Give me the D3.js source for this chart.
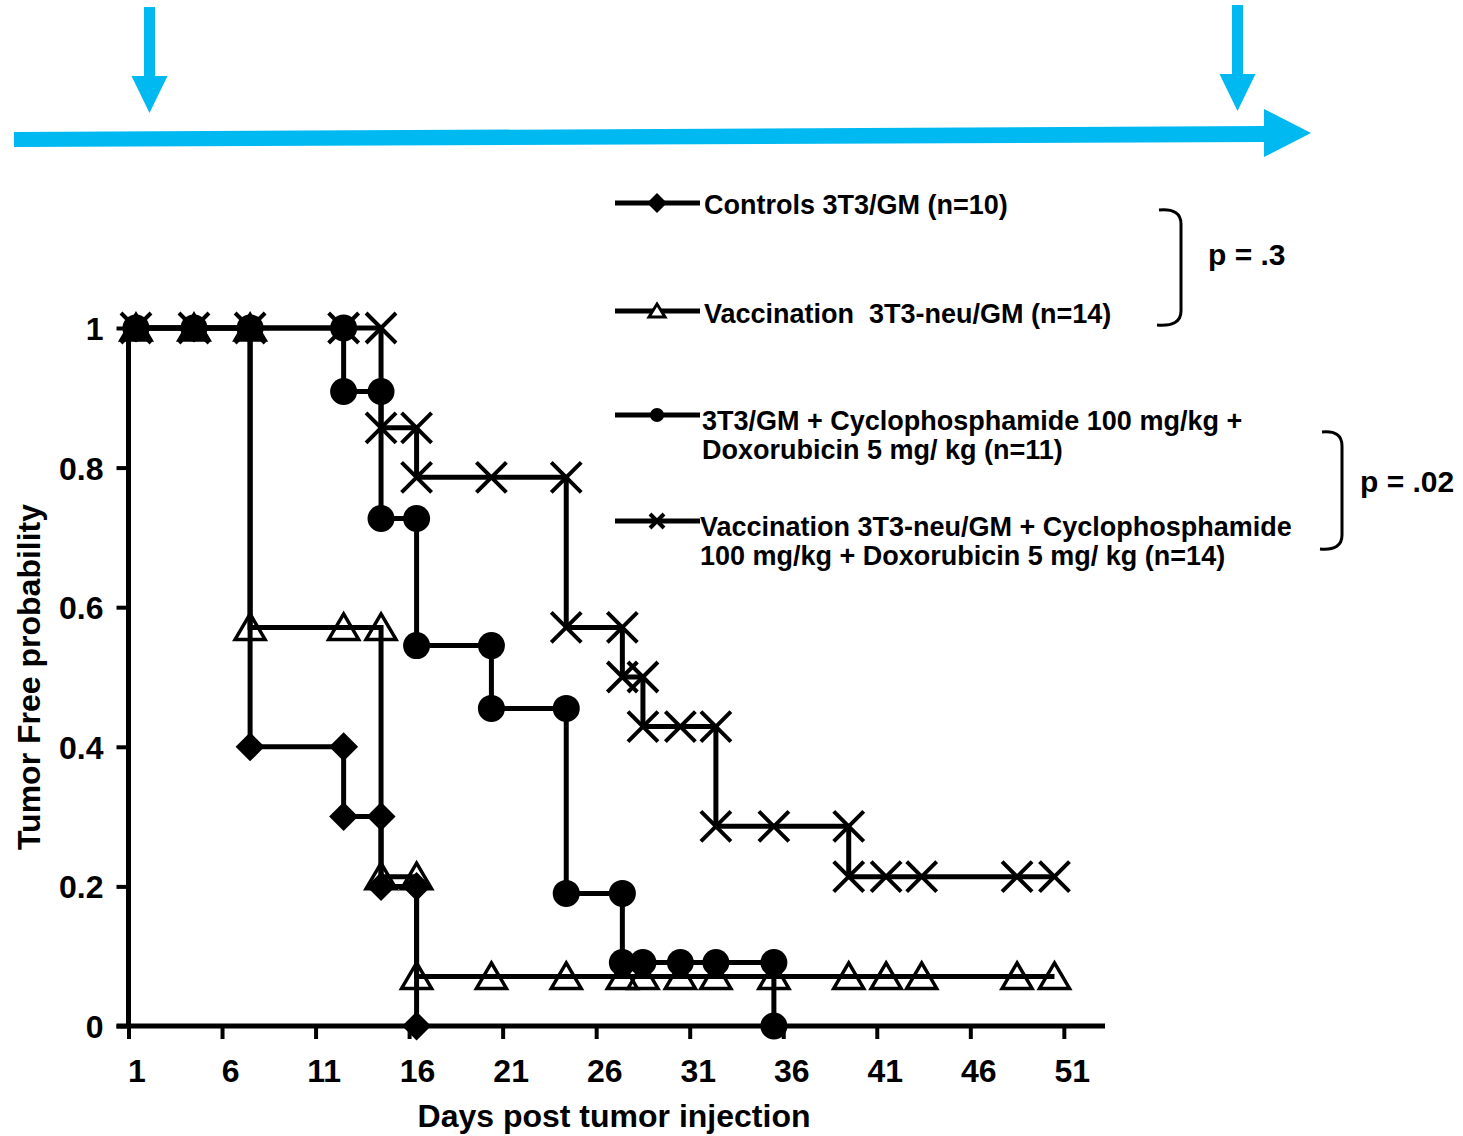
<!DOCTYPE html>
<html>
<head>
<meta charset="utf-8">
<script src="https://cdn.jsdelivr.net/npm/d3@7"></script>
<style>
  body { margin: 0; background: #fff; }
  svg text { font-family: "Liberation Sans", Arial, Helvetica, sans-serif; font-weight: bold; fill: #000; white-space: pre; }
</style>
</head>
<body>
<div id="canvas"></div>
<script>
// Kaplan-Meier style curves, [day, tumor free probability]
var controls = [[1.4,1],[4.5,1],[7.5,1],[7.5,0.4],[12.5,0.4],[12.5,0.3],[14.5,0.3],[14.5,0.2],[16.4,0.2],[16.4,0]];
var vaccination = [[1.4,1],[4.5,1],[7.5,1],[7.5,0.571],[12.5,0.571],[14.5,0.571],[14.5,0.214],[16.4,0.214],[16.4,0.071],
  [20.4,0.071],[24.4,0.071],[27.4,0.071],[28.5,0.071],[30.5,0.071],[32.4,0.071],[35.5,0.071],[39.5,0.071],[41.5,0.071],
  [43.4,0.071],[48.5,0.071],[50.5,0.071]];
var chemo = [[1.4,1],[4.5,1],[7.5,1],[12.5,1],[12.5,0.909],[14.5,0.909],[14.5,0.727],[16.4,0.727],[16.4,0.545],[20.4,0.545],
  [20.4,0.455],[24.4,0.455],[24.4,0.19],[27.4,0.19],[27.4,0.091],[28.5,0.091],[30.5,0.091],[32.4,0.091],[35.5,0.091],[35.5,0]];
var vaccChemo = [[1.4,1],[4.5,1],[7.5,1],[12.5,1],[14.5,1],[14.5,0.857],[16.4,0.857],[16.4,0.786],[20.4,0.786],[24.4,0.786],
  [24.4,0.571],[27.4,0.571],[27.4,0.5],[28.5,0.5],[28.5,0.429],[30.5,0.429],[32.4,0.429],[32.4,0.286],[35.5,0.286],
  [39.5,0.286],[39.5,0.214],[41.5,0.214],[43.4,0.214],[48.5,0.214],[50.5,0.214]];

var xTicks = [1, 6, 11, 16, 21, 26, 31, 36, 41, 46, 51];
var yTicks = [0, 0.2, 0.4, 0.6, 0.8, 1];

var legendLabels = [
  ["Controls 3T3/GM (n=10)"],
  ["Vaccination  3T3-neu/GM (n=14)"],
  ["3T3/GM + Cyclophosphamide 100 mg/kg +", "Doxorubicin 5 mg/ kg (n=11)"],
  ["Vaccination 3T3-neu/GM + Cyclophosphamide", "100 mg/kg + Doxorubicin 5 mg/ kg (n=14)"]
];
var pValues = ["p = .3", "p = .02"];

var width = 1463, height = 1136;
var blue = "#00B9F1";

var svg = d3.select("#canvas").append("svg")
    .attr("width", width)
    .attr("height", height);

// scales
var x = d3.scaleLinear().domain([1, 53.2]).range([128.5, 1105]);
var y = d3.scaleLinear().domain([0, 1]).range([1026, 328]);

// ****************** blue timeline arrows ***************************
svg.append("path")
    .attr("d", "M14,132 L1264,126 L1264,109 L1311,133 L1264,157 L1264,142 L14,147 Z")
    .attr("fill", blue);

function downArrow(cx, top, headTop, tip) {
  return "M" + (cx - 5.5) + "," + top + " L" + (cx + 5.5) + "," + top +
    " L" + (cx + 5.5) + "," + headTop + " L" + (cx + 18) + "," + headTop +
    " L" + cx + "," + tip + " L" + (cx - 18) + "," + headTop +
    " L" + (cx - 5.5) + "," + headTop + " Z";
}
svg.append("path").attr("d", downArrow(149.5, 7, 76, 113)).attr("fill", blue);
svg.append("path").attr("d", downArrow(1237.5, 5, 74, 111)).attr("fill", blue);

// ****************** axes ***************************
var xAxis = svg.append("g")
    .attr("transform", "translate(0," + y(0) + ")")
    .call(d3.axisBottom(x).tickValues(xTicks).tickSize(13).tickSizeOuter(0));

xAxis.select(".domain").attr("stroke", "#000").attr("stroke-width", 5)
    .attr("d", "M" + (x(1) - 12) + ",0H" + x.range()[1]);
xAxis.selectAll(".tick line").attr("stroke", "#000").attr("stroke-width", 4);
xAxis.selectAll(".tick text")
    .attr("x", 8).attr("y", 56).attr("dy", null)
    .attr("font-size", 32).attr("fill", "#000");

var yAxis = svg.append("g")
    .attr("transform", "translate(" + x(1) + ",0)")
    .call(d3.axisLeft(y).tickValues(yTicks).tickSize(12).tickSizeOuter(0).tickPadding(13)
      .tickFormat(function(d) { return (d === 0 || d === 1) ? d : d.toFixed(1); }));

yAxis.select(".domain").attr("stroke", "#000").attr("stroke-width", 5)
    .attr("d", "M0," + y(1) + "V" + y(0));
yAxis.selectAll(".tick line").attr("stroke", "#000").attr("stroke-width", 4);
yAxis.selectAll(".tick text").attr("font-size", 32).attr("fill", "#000").attr("dy", "0.36em");

svg.append("text")
    .attr("x", 614).attr("y", 1127)
    .attr("text-anchor", "middle")
    .attr("font-size", 32)
    .text("Days post tumor injection");

svg.append("text")
    .attr("transform", "translate(40,677) rotate(-90)")
    .attr("text-anchor", "middle")
    .attr("font-size", 32)
    .text("Tumor Free probability");

// ****************** markers ***************************
function drawMarker(g, type, s) {
  if (type === "diamond") {
    g.append("path").attr("d", "M0," + (-s) + "L" + s + ",0L0," + s + "L" + (-s) + ",0Z").attr("fill", "#000");
  } else if (type === "triangle") {
    g.append("path").attr("d", "M0," + (-s * 0.9) + "L" + s + "," + (s * 0.8) + "L" + (-s) + "," + (s * 0.8) + "Z")
      .attr("fill", "none").attr("stroke", "#000").attr("stroke-width", 3.5).attr("stroke-linejoin", "miter");
  } else if (type === "circle") {
    g.append("circle").attr("r", s).attr("fill", "#000");
  } else {
    g.append("path").attr("d", "M" + (-s) + "," + (-s) + "L" + s + "," + s + "M" + (-s) + "," + s + "L" + s + "," + (-s))
      .attr("stroke", "#000").attr("stroke-width", 4).attr("fill", "none");
  }
}

var series = [
  {values: controls, marker: "diamond", size: 14.5},
  {values: vaccination, marker: "triangle", size: 15},
  {values: chemo, marker: "circle", size: 13.5},
  {values: vaccChemo, marker: "x", size: 15}
];

var line = d3.line()
    .x(function(d) { return x(d[0]); })
    .y(function(d) { return y(d[1]); });

// step lines first
series.forEach(function(s) {
  svg.append("path")
      .datum(s.values)
      .attr("d", line)
      .attr("fill", "none")
      .attr("stroke", "#000")
      .attr("stroke-width", 5);
});

// then the symbols on top
series.forEach(function(s) {
  svg.append("g").selectAll("g")
      .data(s.values)
      .enter().append("g")
      .attr("transform", function(d) { return "translate(" + x(d[0]) + "," + y(d[1]) + ")"; })
      .each(function() { drawMarker(d3.select(this), s.marker, s.size); });
});

// ****************** legend ***************************
var legendRows = [203, 311, 415, 521];
var legendText = [[214], [323], [430, 459], [536, 565]];
var legendTextX = [704, 704, 702, 700];

series.forEach(function(s, i) {
  var lg = svg.append("g");
  lg.append("line")
      .attr("x1", 615).attr("x2", 700)
      .attr("y1", legendRows[i]).attr("y2", legendRows[i])
      .attr("stroke", "#000").attr("stroke-width", 5);
  var m = lg.append("g").attr("transform", "translate(657," + legendRows[i] + ")");
  if (s.marker === "diamond") drawMarker(m, "diamond", 10);
  else if (s.marker === "triangle") {
    m.append("path").attr("d", "M0,-7L8,6L-8,6Z").attr("fill", "#fff").attr("stroke", "#000").attr("stroke-width", 3);
  }
  else if (s.marker === "circle") drawMarker(m, "circle", 7);
  else drawMarker(m, "x", 7);
  legendLabels[i].forEach(function(t, j) {
    lg.append("text")
        .attr("x", legendTextX[i]).attr("y", legendText[i][j])
        .attr("font-size", 27)
        .text(t);
  });
});

// ****************** significance brackets ***************************
function bracket(xl, xv, top, bottom) {
  return "M" + xl + "," + top + " Q" + xv + "," + (top - 2) + " " + xv + "," + (top + 14) +
    " L" + xv + "," + (bottom - 14) + " Q" + xv + "," + (bottom + 2) + " " + (xl - 2) + "," + bottom;
}
svg.append("path").attr("d", bracket(1159, 1181, 210, 325))
    .attr("fill", "none").attr("stroke", "#000").attr("stroke-width", 3);
svg.append("path").attr("d", bracket(1322, 1342, 432, 549))
    .attr("fill", "none").attr("stroke", "#000").attr("stroke-width", 3);

svg.append("text").attr("x", 1208).attr("y", 265).attr("font-size", 30).text(pValues[0]);
svg.append("text").attr("x", 1360).attr("y", 492).attr("font-size", 30).text(pValues[1]);
</script>
</body>
</html>
